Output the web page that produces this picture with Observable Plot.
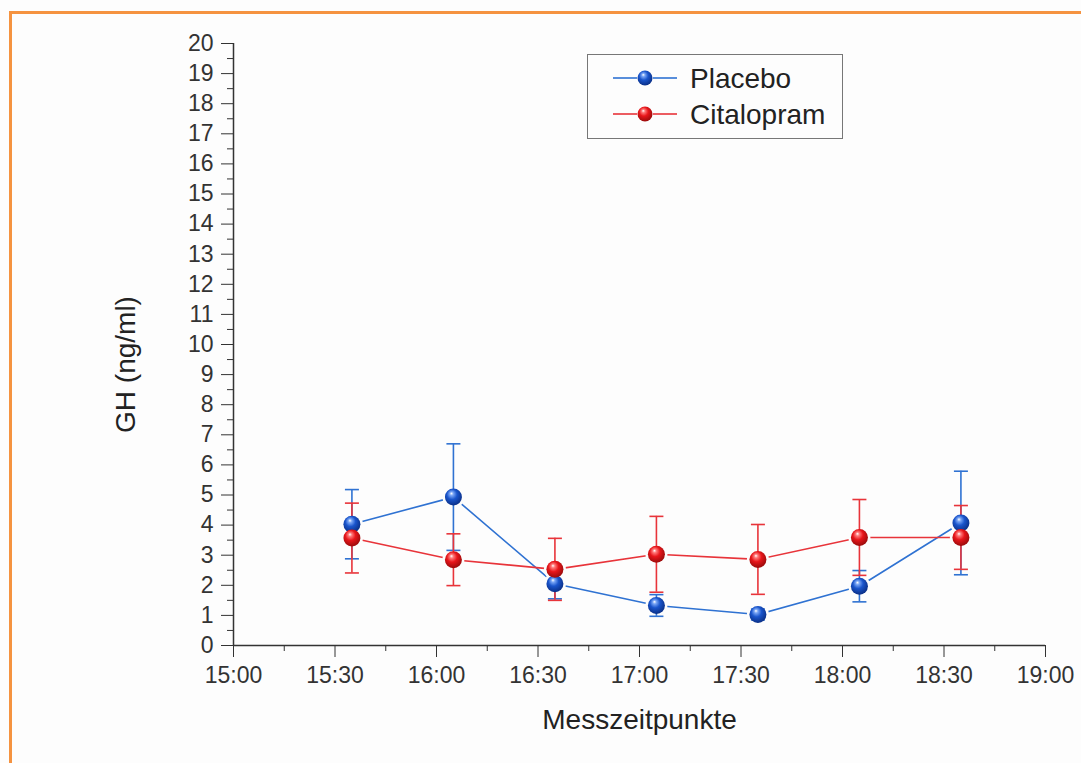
<!DOCTYPE html>
<html><head><meta charset="utf-8">
<script src="https://cdn.jsdelivr.net/npm/d3@7"></script>
<script src="https://cdn.jsdelivr.net/npm/@observablehq/plot@0.6"></script>
<style>
body{margin:0;background:#fdfdfd;font-family:"Liberation Sans",Arial,sans-serif;}
#wrap{position:relative;width:1081px;height:763px;overflow:hidden;background:#fdfdfd;}
#frame{position:absolute;left:9px;top:11px;width:1200px;height:900px;border-top:3px solid #f59340;border-left:3px solid #f59340;pointer-events:none;}
#legend{position:absolute;left:587px;top:54px;width:256px;height:85px;border:1px solid #777;box-sizing:border-box;background:#fdfdfd;}
#chart{position:absolute;left:0;top:0;}
</style></head>
<body>
<div id="wrap"><div id="chart"></div><div id="frame"></div><div id="legend"></div></div>
<script>
// ---- data ----
const times = ["15:35","16:05","16:35","17:05","17:35","18:05","18:35"];
const placeboMean = [4.03, 4.93, 2.05, 1.33, 1.03, 1.97, 4.07];
const placeboErr  = [1.15, 1.77, 0.50, 0.36, 0.18, 0.52, 1.72];
const citalopramMean = [3.57, 2.85, 2.53, 3.03, 2.86, 3.59, 3.59];
const citalopramErr  = [1.16, 0.86, 1.03, 1.26, 1.16, 1.26, 1.06];
const seriesNames = ["Placebo", "Citalopram"];
const xTickLabels = ["15:00","15:30","16:00","16:30","17:00","17:30","18:00","18:30","19:00"];
const yTickLabels = [0,1,2,3,4,5,6,7,8,9,10,11,12,13,14,15,16,17,18,19,20];
const xLabel = "Messzeitpunkte";
const yLabel = "GH (ng/ml)";

const blueLine = "#2f72d2", redLine = "#e8343a";
const toMin = s => { const [h, m] = s.split(":").map(Number); return (h - 15) * 60 + m; };
const build = (mean, err) => times.map((t, i) => ({x: toMin(t), y: mean[i], lo: mean[i] - err[i], hi: mean[i] + err[i]}));
const placebo = build(placeboMean, placeboErr);
const citalopram = build(citalopramMean, citalopramErr);

const xMajor = xTickLabels.map(toMin);
const xMinor = d3.range(15, 240, 30);
const yMinor = d3.range(0.5, 20, 1);

const capSymbol = {draw(ctx, size) { const w = Math.sqrt(size / Math.PI); ctx.moveTo(-w, 0); ctx.lineTo(w, 0); }};

function seriesMarks(data, color) {
  return [
    Plot.ruleX(data, {x: "x", y1: "lo", y2: "hi", stroke: color, strokeWidth: 1.6}),
    Plot.dot(data, {x: "x", y: "lo", r: 7, symbol: capSymbol, stroke: color, strokeWidth: 1.6, fill: "none"}),
    Plot.dot(data, {x: "x", y: "hi", r: 7, symbol: capSymbol, stroke: color, strokeWidth: 1.6, fill: "none"})
  ];
}

const chart = Plot.plot({
  width: 1081, height: 763,
  marginLeft: 233, marginRight: 36, marginTop: 43, marginBottom: 118,
  style: {fontSize: "23px", fontFamily: "'Liberation Sans', Arial, sans-serif", background: "transparent", color: "#333"},
  x: {domain: [0, 240]},
  y: {domain: [0, 20]},
  marks: [
    Plot.axisX({ticks: xMajor, tickSize: 12, tickPadding: 9, tickFormat: (d) => xTickLabels[xMajor.indexOf(d)], label: null, color: "#333"}),
    Plot.axisX({ticks: xMinor, tickSize: 6, tickFormat: () => "", label: null, color: "#333"}),
    Plot.axisY({ticks: yTickLabels, tickSize: 12, tickPadding: 8, label: null, color: "#333"}),
    Plot.axisY({ticks: yMinor, tickSize: 6, tickFormat: () => "", label: null, color: "#333"}),
    Plot.ruleX([0], {stroke: "#333", strokeWidth: 1.5}),
    Plot.ruleY([0], {stroke: "#333", strokeWidth: 1.5}),
    Plot.text([xLabel], {frameAnchor: "bottom", dy: 83, fontSize: 28, fill: "#222"}),
    Plot.text([yLabel], {frameAnchor: "left", dx: -107, dy: 20, rotate: -90, textAnchor: "middle", fontSize: 28, fill: "#222"}),
    Plot.line(placebo, {x: "x", y: "y", stroke: blueLine, strokeWidth: 1.6}),
    Plot.line(citalopram, {x: "x", y: "y", stroke: redLine, strokeWidth: 1.6}),
    Plot.dot(placebo, {x: "x", y: "y", r: 11, fill: "#fdfdfd"}),
    Plot.dot(citalopram, {x: "x", y: "y", r: 11, fill: "#fdfdfd"}),
    ...seriesMarks(placebo, blueLine),
    ...seriesMarks(citalopram, redLine),
    Plot.dot(placebo, {x: "x", y: "y", r: 8.5, fill: "url(#gBlue)"}),
    Plot.dot(citalopram, {x: "x", y: "y", r: 8.5, fill: "url(#gRed)"})
  ]
});

function addDefs(svg) {
  const defs = d3.select(svg).insert("defs", ":first-child");
  const grads = [["gBlue", ["#ffffff", "#7aa6f5", "#1a55cc", "#0a2f86"]], ["gRed", ["#ffffff", "#ff7b7b", "#e8161b", "#9a0b0b"]]];
  for (const [id, c] of grads) {
    const g = defs.append("radialGradient").attr("id", id).attr("cx", "45%").attr("cy", "40%").attr("r", "60%").attr("fx", "38%").attr("fy", "28%");
    g.append("stop").attr("offset", "0%").attr("stop-color", c[0]);
    g.append("stop").attr("offset", "18%").attr("stop-color", c[1]);
    g.append("stop").attr("offset", "50%").attr("stop-color", c[2]);
    g.append("stop").attr("offset", "100%").attr("stop-color", c[3]);
  }
}
addDefs(chart);
document.getElementById("chart").append(chart);

// legend
const lg = d3.select("#legend").append("svg").attr("width", 254).attr("height", 83)
  .style("font-family", "'Liberation Sans', Arial, sans-serif");
[[seriesNames[0], blueLine, "gBlue", 23], [seriesNames[1], redLine, "gRed", 59]].forEach(([name, col, g, cy]) => {
  lg.append("line").attr("x1", 25).attr("x2", 49).attr("y1", cy).attr("y2", cy).attr("stroke", col).attr("stroke-width", 1.6);
  lg.append("line").attr("x1", 65).attr("x2", 89).attr("y1", cy).attr("y2", cy).attr("stroke", col).attr("stroke-width", 1.6);
  lg.append("circle").attr("cx", 57).attr("cy", cy).attr("r", 7.5).attr("fill", `url(#${g})`);
  lg.append("text").attr("x", 102).attr("y", cy).attr("dy", "0.36em").attr("font-size", 28).attr("fill", "#222").text(name);
});
</script>
</body></html>
